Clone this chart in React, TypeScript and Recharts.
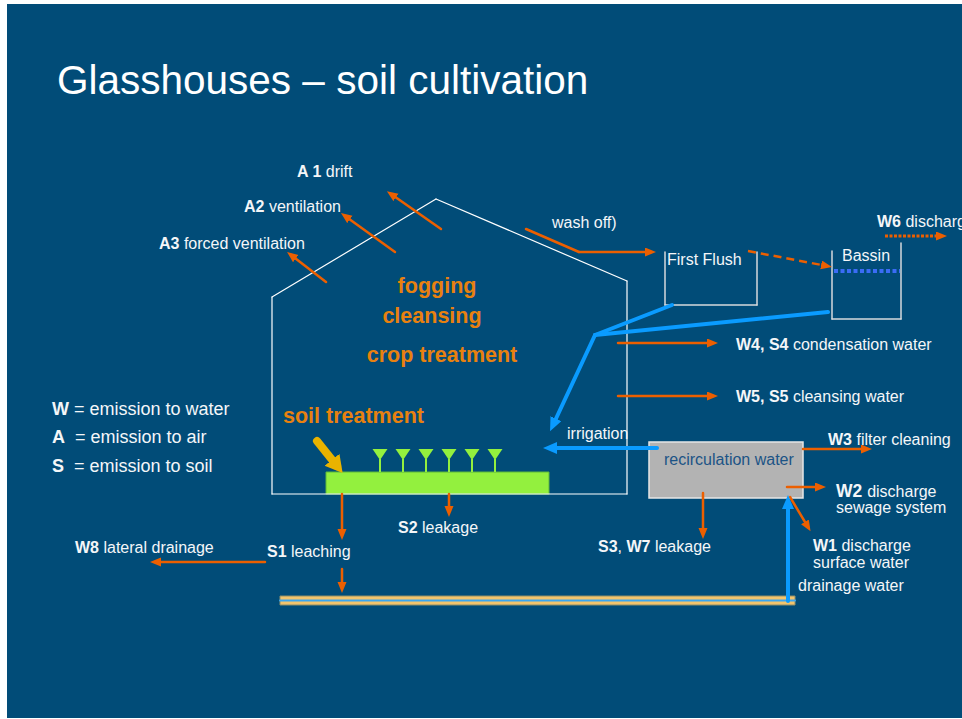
import React from "react";
import {
  ComposedChart,
  XAxis,
  YAxis,
  ReferenceArea,
  ReferenceLine,
  Scatter,
} from "recharts";

// the slide is drawn on a 962 x 719 grid, y grows downwards
type Pt = [number, number];
type Part = [string, boolean, number?];

interface Label {
  x: number;
  y: number;
  parts: Part[];
}

interface Path {
  pts: Pt[];
  arrow?: boolean;
  dash?: string;
}

const WIDTH = 962;
const HEIGHT = 719;

// outline of the glasshouse and the two open tanks
const HOUSE: Pt[] = [[436, 199], [272, 297], [272, 494], [627, 494], [627, 281], [436, 199]];
const FIRST_FLUSH: Pt[] = [[665, 252], [665, 305], [757, 305], [757, 252]];
const BASSIN: Pt[] = [[832, 251], [832, 319], [901, 319], [901, 243]];
const BASSIN_LEVEL: Pt[] = [[834, 271], [900, 271]];

// boxes: [x1, y1, x2, y2]
const SLIDE_BOX = [7, 4, 962, 718];
const SOIL_BED = [326, 472, 549, 494];
const RECIRC_BOX = [649, 442, 803, 498];
const DRAIN_PIPE = [280, 596, 795, 605];
const DRAIN_CORE: Pt[] = [[280, 600.5], [795, 600.5]];

// crop plants standing on the soil bed
const PLANTS = [380, 403, 426, 449, 472, 495].map((x) => ({ x, y: 449 }));

// emission arrows
const EMISSIONS: Path[] = [
  { pts: [[441, 229], [391, 194]], arrow: true }, // A1
  { pts: [[395, 252], [345, 216]], arrow: true }, // A2
  { pts: [[326, 282], [291, 255]], arrow: true }, // A3
  { pts: [[526, 229], [579, 252], [651, 252]], arrow: true }, // wash off
  { pts: [[748, 251], [827, 266]], arrow: true, dash: "8 5" }, // to bassin
  { pts: [[885, 236], [942, 236]], arrow: true, dash: "3 1.5" }, // W6
  { pts: [[618, 343], [713, 343]], arrow: true }, // W4 S4
  { pts: [[618, 396], [713, 396]], arrow: true }, // W5 S5
  { pts: [[803, 449], [867, 449]], arrow: true }, // W3
  { pts: [[787, 487], [821, 487]], arrow: true }, // W2
  { pts: [[790, 497], [808, 527]], arrow: true }, // W1
  { pts: [[703, 493], [703, 534]], arrow: true }, // S3 W7
  { pts: [[342, 494], [342, 535]], arrow: true }, // S1
  { pts: [[342, 569], [342, 588]], arrow: true }, // S1 to drain
  { pts: [[449, 494], [449, 512]], arrow: true }, // S2
  { pts: [[265, 562], [155, 562]], arrow: true }, // W8
];

// water flows
const WATER: Path[] = [
  { pts: [[672, 305], [595, 335], [553, 425]], arrow: true },
  { pts: [[828, 312], [595, 335]] },
  { pts: [[657, 448], [550, 448]], arrow: true }, // irrigation
  { pts: [[788, 601], [788, 502]], arrow: true }, // drainage water
];

const SOIL_TREATMENT_ARROW: Pt[] = [[317, 441], [337, 466]];

// texts
const TITLE: Label[] = [{ x: 57, y: 94, parts: [["Glasshouses \u2013 soil cultivation", false]] }];

const LEGEND: Label[] = [
  { x: 52, y: 415, parts: [["W", true], [" = emission to water", false]] },
  { x: 52, y: 443, parts: [["A", true], ["  = emission to air", false]] },
  { x: 52, y: 472, parts: [["S", true], ["  = emission to soil", false]] },
];

const TREATMENTS: Label[] = [
  { x: 437, y: 293, parts: [["fogging", true]] },
  { x: 432, y: 323, parts: [["cleansing", true]] },
  { x: 442, y: 362, parts: [["crop treatment", true]] },
];
const SOIL_TREATMENT: Label[] = [{ x: 283, y: 423, parts: [["soil treatment", true]] }];

const NOTES: Label[] = [
  { x: 297, y: 177, parts: [["A 1 ", true], ["drift", false]] },
  { x: 244, y: 212, parts: [["A2 ", true], ["ventilation", false]] },
  { x: 159, y: 249, parts: [["A3 ", true], ["forced ventilation", false]] },
  { x: 552, y: 228, parts: [["wash off)", false]] },
  { x: 667, y: 265, parts: [["First Flush", false]] },
  { x: 842, y: 261, parts: [["Bassin", false]] },
  { x: 877, y: 227, parts: [["W6 ", true], ["discharge", false]] },
  { x: 736, y: 350, parts: [["W4, S4 ", true], ["condensation water", false]] },
  { x: 736, y: 402, parts: [["W5, S5 ", true], ["cleansing water", false]] },
  { x: 567, y: 439, parts: [["irrigation", false]] },
  { x: 828, y: 445, parts: [["W3 ", true], ["filter cleaning", false]] },
  { x: 836, y: 497, parts: [["W2 ", true, 17.5], ["discharge", false]] },
  { x: 836, y: 513, parts: [["sewage system", false]] },
  { x: 813, y: 551, parts: [["W1 ", true], ["discharge", false]] },
  { x: 813, y: 568, parts: [["surface water", false]] },
  { x: 798, y: 591, parts: [["drainage water", false]] },
  { x: 598, y: 552, parts: [["S3", true], [", ", false], ["W7", true], [" leakage", false]] },
  { x: 398, y: 533, parts: [["S2 ", true], ["leakage", false]] },
  { x: 267, y: 557, parts: [["S1 ", true], ["leaching", false]] },
  { x: 75, y: 553, parts: [["W8 ", true], ["lateral drainage", false]] },
];

const BOX_TEXT: Label[] = [{ x: 664, y: 465, parts: [["recirculation water", false]] }];

const BG = "#014c78";
const ORANGE = "#ec5f00";
const TEXT_ORANGE = "#e8810f";
const BLUE = "#0a9bff";
const GREEN = "#93f03e";
const YELLOW = "#e9b300";
const WHITE = "#f4f6f8";
const FONT = "'Liberation Sans', Arial, sans-serif";

const textShape =
  (size: number, color: string, anchor: "start" | "middle" = "start", family = FONT) =>
  (p: any) => {
    const d = p.payload as Label;
    return (
      <text
        x={p.cx}
        y={p.cy}
        fontSize={size}
        fill={color}
        textAnchor={anchor}
        fontFamily={family}
        style={{ whiteSpace: "pre" }}
      >
        {d.parts.map(([t, b, s], i) => (
          <tspan key={i} fontWeight={b ? "bold" : "normal"} fontSize={s}>
            {t}
          </tspan>
        ))}
      </text>
    );
  };

const plantShape = (p: any) => (
  <g>
    <polygon
      points={`${p.cx - 7.5},${p.cy} ${p.cx + 7.5},${p.cy} ${p.cx},${p.cy + 11}`}
      fill={GREEN}
    />
    <line x1={p.cx} x2={p.cx} y1={p.cy + 10} y2={p.cy + 23} stroke={GREEN} strokeWidth={2} />
  </g>
);

const lineShape = (marker?: string, cap = "round") => (p: any) =>
  (
    <line
      x1={p.x1}
      y1={p.y1}
      x2={p.x2}
      y2={p.y2}
      stroke={p.stroke}
      strokeWidth={p.strokeWidth}
      strokeDasharray={p.strokeDasharray}
      strokeLinecap={cap as any}
      markerEnd={marker ? `url(#${marker})` : undefined}
    />
  );

const drawPath = (
  key: string,
  pts: Pt[],
  color: string,
  width: number,
  marker?: string,
  dash?: string
) =>
  pts.slice(1).map((p, i) => (
    <ReferenceLine
      key={`${key}-${i}`}
      segment={[
        { x: pts[i][0], y: pts[i][1] },
        { x: p[0], y: p[1] },
      ]}
      stroke={color}
      strokeWidth={width}
      strokeDasharray={dash}
      ifOverflow="visible"
      shape={lineShape(i === pts.length - 2 ? marker : undefined, dash ? "butt" : "round")}
    />
  ));

const box = (b: number[], fill: string, stroke: string, sw: number) => (
  <ReferenceArea
    x1={b[0]}
    y1={b[1]}
    x2={b[2]}
    y2={b[3]}
    fill={fill}
    fillOpacity={1}
    stroke={stroke}
    strokeWidth={sw}
    ifOverflow="visible"
  />
);

const Markers = () => (
  <svg width={0} height={0} style={{ position: "absolute" }}>
    <defs>
      <marker id="arrowOrange" markerUnits="userSpaceOnUse" markerWidth={12} markerHeight={10}
        refX={6} refY={4.5} orient="auto" viewBox="0 0 12 10">
        <path d="M0,0 L11,4.5 L0,9 z" fill={ORANGE} />
      </marker>
      <marker id="arrowBlue" markerUnits="userSpaceOnUse" markerWidth={16} markerHeight={14}
        refX={7} refY={6} orient="auto" viewBox="0 0 16 14">
        <path d="M0,0 L14,6 L0,12 z" fill={BLUE} />
      </marker>
      <marker id="arrowYellow" markerUnits="userSpaceOnUse" markerWidth={20} markerHeight={20}
        refX={8} refY={9.5} orient="auto" viewBox="0 0 20 20">
        <path d="M0,0 L17,9.5 L0,19 z" fill={YELLOW} />
      </marker>
    </defs>
  </svg>
);

export default function App() {
  return (
    <div style={{ position: "relative", width: WIDTH, height: HEIGHT, background: "#fff" }}>
      <style>{`body{margin:0}`}</style>
      <Markers />
      <ComposedChart width={WIDTH} height={HEIGHT} margin={{ top: 0, right: 0, bottom: 0, left: 0 }}>
        <XAxis type="number" dataKey="x" domain={[0, WIDTH]} hide allowDataOverflow />
        <YAxis type="number" dataKey="y" domain={[0, HEIGHT]} reversed hide allowDataOverflow />

        {box(SLIDE_BOX, BG, "none", 0)}

        {drawPath("house", HOUSE, "#ffffff", 1.2)}
        {drawPath("ff", FIRST_FLUSH, "#d6d9dc", 1.5)}
        {drawPath("bassin", BASSIN, "#d6d9dc", 1.5)}
        {drawPath("level", BASSIN_LEVEL, "#3b6cf5", 4, undefined, "4 2.5")}

        {box(SOIL_BED, GREEN, "#5fb83a", 1)}
        {box(RECIRC_BOX, "#b3b3b3", "#e6e6e6", 1.5)}
        {box(DRAIN_PIPE, "#f2c46d", "#8f8f6a", 1)}
        {drawPath("core", DRAIN_CORE, "#3aa6f0", 2)}

        {EMISSIONS.map((a, i) =>
          drawPath(`em${i}`, a.pts, ORANGE, a.dash ? (a.dash.startsWith("3") ? 3 : 2.5) : 2.5,
            a.arrow ? "arrowOrange" : undefined, a.dash)
        )}
        {WATER.map((a, i) =>
          drawPath(`wa${i}`, a.pts, BLUE, 4, a.arrow ? "arrowBlue" : undefined)
        )}
        {drawPath("soilT", SOIL_TREATMENT_ARROW, YELLOW, 8, "arrowYellow")}

        <Scatter data={PLANTS} shape={plantShape} isAnimationActive={false} />
        <Scatter data={TITLE} shape={textShape(40.5, "#ffffff")} isAnimationActive={false} />
        <Scatter data={LEGEND} shape={textShape(18, WHITE)} isAnimationActive={false} />
        <Scatter data={TREATMENTS} shape={textShape(21.5, TEXT_ORANGE, "middle")} isAnimationActive={false} />
        <Scatter data={SOIL_TREATMENT} shape={textShape(21.5, TEXT_ORANGE)} isAnimationActive={false} />
        <Scatter data={NOTES} shape={textShape(16, WHITE)} isAnimationActive={false} />
        <Scatter data={BOX_TEXT} shape={textShape(16, "#1c5486")} isAnimationActive={false} />
      </ComposedChart>
    </div>
  );
}
